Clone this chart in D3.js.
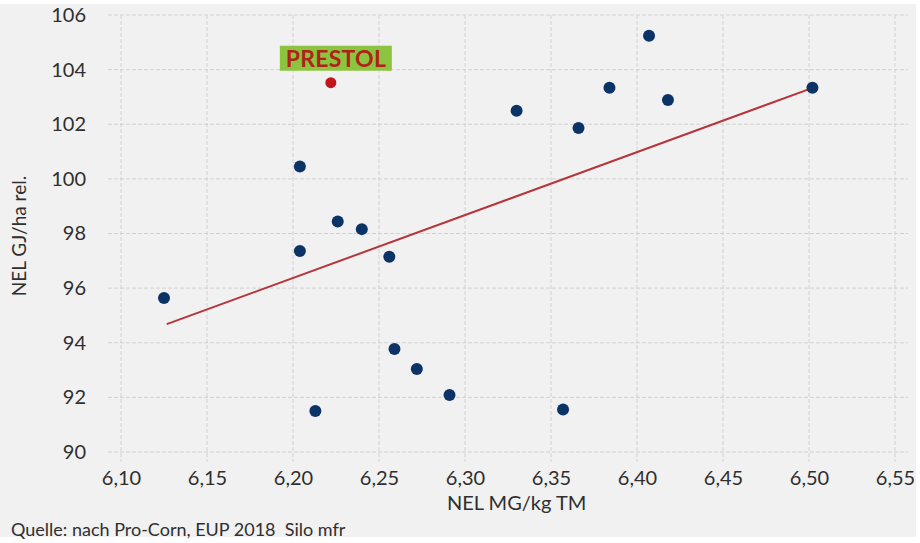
<!DOCTYPE html>
<html>
<head>
<meta charset="utf-8">
<script src="https://cdn.jsdelivr.net/npm/d3@7"></script>
<style>
  body { margin: 0; background: #fff; }
  text { font-family: Lato, "Open Sans", sans-serif; fill: #2f2f2f; }
</style>
</head>
<body>
<div id="chart"></div>
<script>
// NEL MG/kg TM (x) vs NEL GJ/ha rel. (y)
var nelMg = [6.125, 6.204, 6.204, 6.213, 6.226, 6.240, 6.256, 6.259, 6.272, 6.291, 6.330, 6.357, 6.366, 6.384, 6.407, 6.418, 6.502];
var nelGj = [95.64, 97.36, 100.45, 91.50, 98.44, 98.16, 97.15, 93.77, 93.04, 92.09, 102.49, 91.56, 101.86, 103.34, 105.24, 102.89, 103.34];

// highlighted variety
var prestolX = [6.222];
var prestolY = [103.52];
var prestolName = 'PRESTOL';

// trend line end points
var trendX = [6.1266, 6.5025];
var trendY = [94.68, 103.34];

var xTicks = [6.10, 6.15, 6.20, 6.25, 6.30, 6.35, 6.40, 6.45, 6.50, 6.55];
var yTicks = [90, 92, 94, 96, 98, 100, 102, 104, 106];

var W = 920, H = 543;

var de = d3.formatLocale({decimal: ',', thousands: '.', grouping: [3], currency: ['', ' €']});
var fmtX = de.format('.2f');

var svg = d3.select('#chart')
  .append('svg')
  .attr('width', W)
  .attr('height', H);

svg.append('rect')
  .attr('x', 0).attr('y', 4)
  .attr('width', 916).attr('height', 533)
  .attr('fill', '#f1f1f1');

var xScale = d3.scaleLinear().domain([6.10, 6.55]).range([121, 895]);
var yScale = d3.scaleLinear().domain([90, 106]).range([452, 15]);

// grid
var grid = svg.append('g').attr('class', 'grid');
grid.selectAll('.hgrid')
  .data(yTicks)
  .enter()
  .append('line')
  .attr('class', 'hgrid')
  .attr('x1', 108).attr('x2', 908)
  .attr('y1', function(d) {return yScale(d);})
  .attr('y2', function(d) {return yScale(d);})
  .attr('stroke', '#d2d2d2')
  .attr('stroke-dasharray', '4,2');
grid.selectAll('.vgrid')
  .data(xTicks)
  .enter()
  .append('line')
  .attr('class', 'vgrid')
  .attr('y1', 15).attr('y2', 462)
  .attr('x1', function(d) {return xScale(d);})
  .attr('x2', function(d) {return xScale(d);})
  .attr('stroke', '#d2d2d2')
  .attr('stroke-dasharray', '4,2');

// axes (labels only)
var xAxis = d3.axisBottom(xScale).tickValues(xTicks).tickFormat(fmtX).tickSize(0).tickPadding(0);
var yAxis = d3.axisLeft(yScale).tickValues(yTicks).tickFormat(d3.format('d')).tickSize(0).tickPadding(0);

svg.append('g')
  .attr('class', 'axis x-axis')
  .attr('transform', 'translate(0,478)')
  .call(xAxis)
  .selectAll('text')
  .attr('dy', '0.35em');
svg.append('g')
  .attr('class', 'axis y-axis')
  .attr('transform', 'translate(86,0)')
  .call(yAxis);
svg.selectAll('.axis .domain').remove();
svg.selectAll('.axis text')
  .attr('fill', '#2f2f2f')
  .style('font-size', '20px')
  .style('font-family', 'Lato, "Open Sans", sans-serif');

// trend line
var line = d3.line()
  .x(function(d) {return xScale(d[0]);})
  .y(function(d) {return yScale(d[1]);});
svg.append('path')
  .datum(d3.zip(trendX, trendY))
  .attr('d', line)
  .attr('fill', 'none')
  .attr('stroke', '#b5353a')
  .attr('stroke-width', 2);

// points
svg.append('g')
  .selectAll('.pt')
  .data(d3.zip(nelMg, nelGj))
  .enter()
  .append('circle')
  .attr('class', 'pt')
  .attr('cx', function(d) {return xScale(d[0]);})
  .attr('cy', function(d) {return yScale(d[1]);})
  .attr('r', 6)
  .attr('fill', '#0c3366');

svg.append('g')
  .selectAll('.prestol')
  .data(d3.zip(prestolX, prestolY))
  .enter()
  .append('circle')
  .attr('class', 'prestol')
  .attr('cx', function(d) {return xScale(d[0]);})
  .attr('cy', function(d) {return yScale(d[1]);})
  .attr('r', 5.5)
  .attr('fill', '#c3161c');

// label box
var lx = xScale(prestolX[0]) + 5, ly = yScale(prestolY[0]) - 25;
svg.append('rect')
  .attr('x', lx - 56).attr('y', ly - 12)
  .attr('width', 112).attr('height', 25)
  .attr('fill', '#8cc43f');
svg.append('text')
  .text(prestolName)
  .attr('x', lx).attr('y', ly + 9)
  .attr('text-anchor', 'middle')
  .attr('textLength', 100)
  .style('font-size', '23px')
  .style('font-weight', 'bold')
  .style('fill', '#ae2418');

// axis titles
svg.append('text')
  .text('NEL MG/kg TM')
  .attr('x', 447).attr('y', 510)
  .style('font-size', '20px');
svg.append('text')
  .text('NEL GJ/ha rel.')
  .attr('transform', 'translate(26,' + 236 + ') rotate(-90)')
  .attr('text-anchor', 'middle')
  .style('font-size', '19px');

svg.append('text')
  .text('Quelle: nach Pro-Corn, EUP 2018  Silo mfr')
  .attr('x', 11).attr('y', 536)
  .style('white-space', 'pre')
  .style('font-size', '18px');
</script>
</body>
</html>
